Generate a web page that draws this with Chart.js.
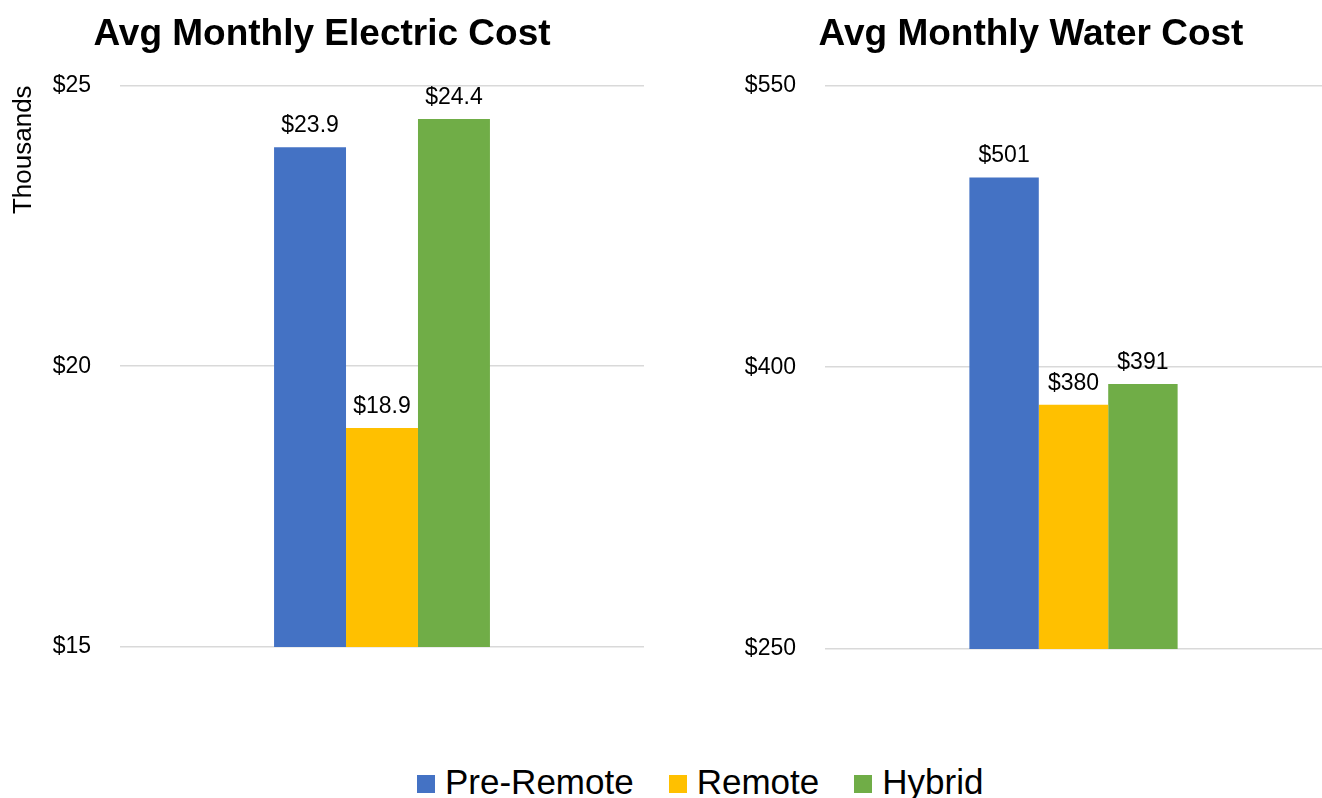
<!DOCTYPE html>
<html>
<head>
<meta charset="utf-8">
<script src="https://cdn.jsdelivr.net/npm/chart.js@4/dist/chart.umd.min.js"></script>
<style>
  html, body { margin: 0; padding: 0; background: #fff; overflow: hidden; width: 1322px; height: 798px; }
  #electric { position: absolute; left: 0; top: 0; }
  #water { position: absolute; left: 740px; top: 0; }
  #legend {
    position: absolute; left: 417px; top: 764px;
    display: flex; align-items: center;
    font-family: "Liberation Sans", Arial, sans-serif; font-size: 35px; line-height: 35px; color: #000;
  }
  .item { display: flex; align-items: center; margin-right: 35px; }
  .box { width: 18px; height: 18px; margin-right: 10px; margin-top: 5px; }
</style>
</head>
<body>
<canvas id="electric" width="644" height="700"></canvas>
<canvas id="water" width="592" height="700"></canvas>
<div id="legend"></div>
<script>
// данные
const seriesNames = ['Pre-Remote', 'Remote', 'Hybrid']
const seriesColors = ['#4472C4', '#FFC000', '#70AD47']
const electricValues = [23.9, 18.9, 24.4]   // тысячи $
const waterValues = [501, 380, 391]
const electricTicks = { min: 15, max: 25, step: 5 }
const waterTicks = { min: 250, max: 550, step: 150 }

Chart.defaults.font.family = '"Liberation Sans", Arial, sans-serif'
Chart.defaults.color = '#000'

// подписи над столбцами
const valueLabels = {
	id: 'valueLabels',
	afterDatasetsDraw(chart, args, opts) {
		const c = chart.ctx
		c.save()
		c.font = '23px "Liberation Sans", Arial, sans-serif'
		c.fillStyle = '#000'
		c.textAlign = 'center'
		c.textBaseline = 'alphabetic'
		chart.data.datasets.forEach((ds, i) => {
			const bar = chart.getDatasetMeta(i).data[0]
			c.fillText(opts.format(ds.data[0]), bar.x, bar.y - 15)
		})
		c.restore()
	}
}

function makeDatasets(values, pct){
	return seriesNames.map((name, i) => ({
		label: name,
		data: [values[i]],
		backgroundColor: seriesColors[i],
		borderWidth: 0,
		barPercentage: 1,
		categoryPercentage: pct
	}))
}

function makeConfig(title, values, ticks, axisWidth, pct, format, yTitle, pad){
	return {
		type: 'bar',
		data: { labels: [''], datasets: makeDatasets(values, pct) },
		plugins: [valueLabels],
		options: {
			responsive: false,
			animation: false,
			layout: { padding: pad },
			plugins: {
				legend: { display: false },
				tooltip: { enabled: false },
				title: {
					display: true,
					text: title,
					color: '#000',
					font: { size: 37, weight: 'bold' },
					padding: { top: 13, bottom: 28 }
				},
				valueLabels: { format: format }
			},
			scales: {
				x: { display: false },
				y: {
					min: ticks.min,
					max: ticks.max,
					afterFit: s => { s.width = axisWidth },
					border: { display: false },
					grid: { color: '#d9d9d9', lineWidth: 1.5, drawTicks: false },
					ticks: {
						stepSize: ticks.step,
						padding: 29,
						color: '#000',
						font: { size: 23 },
						callback: v => '$' + v
					},
					title: yTitle
				}
			}
		}
	}
}

const electricChart = new Chart(document.getElementById('electric'),
	makeConfig('Avg Monthly Electric Cost', electricValues, electricTicks, 120, 0.412,
		v => '$' + v.toFixed(1),
		{ display: true, text: 'Thousands', align: 'end', color: '#000', font: { size: 26 }, padding: { top: 8, bottom: 0 } },
		{ left: 0, right: 0, top: 0, bottom: 53 }))

const waterChart = new Chart(document.getElementById('water'),
	makeConfig('Avg Monthly Water Cost', waterValues, waterTicks, 85, 0.419,
		v => '$' + Math.round(v),
		{ display: false },
		{ left: 0, right: 10, top: 0, bottom: 51 }))

// общая легенда
const legend = document.getElementById('legend')
seriesNames.forEach((name, i) => {
	const item = document.createElement('div')
	item.className = 'item'
	const box = document.createElement('span')
	box.className = 'box'
	box.style.background = seriesColors[i]
	const txt = document.createElement('span')
	txt.innerText = name
	item.append(box)
	item.append(txt)
	legend.append(item)
})
</script>
</body>
</html>
